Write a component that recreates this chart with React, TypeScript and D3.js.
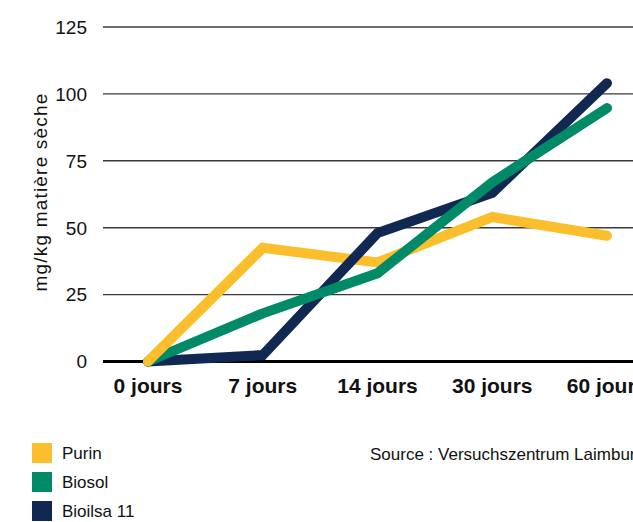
import React from 'react';
import * as d3 from 'd3';

// catégories et séries
const categories = ['0 jours', '7 jours', '14 jours', '30 jours', '60 jours'];
const purin = [0, 42.5, 37, 54, 47];
const biosol = [0, 18, 33, 67, 94.7];
const bioilsa = [0, 2.4, 48, 63, 104];
const yTicks = [0, 25, 50, 75, 100, 125];

const series = [
  { name: 'Purin', values: purin, color: '#FBBE2D' },
  { name: 'Biosol', values: biosol, color: '#008A67' },
  { name: 'Bioilsa 11', values: bioilsa, color: '#112952' },
];

const W = 633;
const H = 522;
const font = '"Liberation Sans", Arial, sans-serif';

const App: React.FC = () => {
  // échelles
  const x = d3.scalePoint<string>().domain(categories).range([148, 607]);
  const y = d3.scaleLinear().domain([0, 125]).range([361.5, 27]);
  const gridX0 = 103;

  const line = d3.line<number>()
    .x((_, i) => x(categories[i]) as number)
    .y(d => y(d));

  // ordre de dessin : Purin, Bioilsa 11, Biosol (Biosol au-dessus)
  const drawOrder = [series[0], series[2], series[1]];

  return (
    <svg width={W} height={H} style={{ position: 'absolute', left: 0, top: 0, background: '#fff' }}>
      {/* grille */}
      {yTicks.filter(t => t > 0).map(t => (
        <line key={t} x1={gridX0} x2={W} y1={y(t)} y2={y(t)} stroke="#3a3a3a" strokeWidth={1.4} />
      ))}
      {yTicks.map(t => (
        <text key={t} x={87} y={y(t)} dy="0.36em" textAnchor="end" fontFamily={font} fontSize={19} fill="#111">
          {t}
        </text>
      ))}
      <text
        transform={`translate(${47},${192}) rotate(-90)`}
        textAnchor="middle"
        fontFamily={font}
        fontSize={19}
        letterSpacing={1.2}
        fill="#111"
      >
        mg/kg matière sèche
      </text>

      {/* ligne zéro */}
      <line x1={gridX0} x2={W} y1={y(0)} y2={y(0)} stroke="#000" strokeWidth={3} />

      {/* courbes */}
      {drawOrder.map(s => (
        <path
          key={s.name}
          d={line(s.values) || ''}
          fill="none"
          stroke={s.color}
          strokeWidth={10}
          strokeLinecap="round"
          strokeLinejoin="miter"
        />
      ))}
      {/* premier segment de Purin au-dessus des autres au départ */}
      <path
        d={line(purin.slice(0, 2)) || ''}
        fill="none"
        stroke={series[0].color}
        strokeWidth={10}
        strokeLinecap="round"
      />

      {categories.map(c => (
        <text key={c} x={x(c)} y={393} textAnchor="middle" fontFamily={font} fontWeight="bold" fontSize={21} fill="#111">
          {c}
        </text>
      ))}

      {/* légende */}
      {series.map((s, i) => (
        <g key={s.name} transform={`translate(32,${443 + i * 29})`}>
          <rect width={20} height={20} fill={s.color} />
          <text x={30} y={10} dy="0.36em" fontFamily={font} fontSize={17} fill="#111">{s.name}</text>
        </g>
      ))}
      <text x={370} y={460} fontFamily={font} fontSize={17} fill="#111">Source : Versuchszentrum Laimburg</text>
    </svg>
  );
};

export default App;
